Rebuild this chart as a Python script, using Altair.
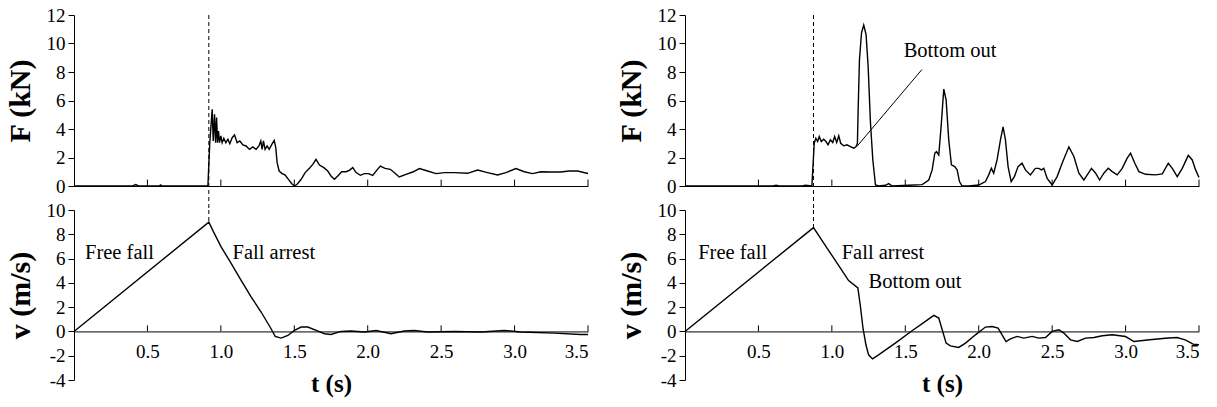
import altair as alt
import pandas as pd

# ---------------- data ----------------
# Left case: normal fall arrest
tF_left = [0, 0.40, 0.42, 0.44, 0.58, 0.59, 0.60, 0.912, 0.918, 0.925, 0.941, 0.948, 0.957, 0.964,
           0.971, 0.977, 0.984, 0.991, 1.0, 1.009, 1.020, 1.034, 1.048, 1.061, 1.077, 1.093, 1.111,
           1.129, 1.150, 1.172, 1.195, 1.218, 1.240, 1.259, 1.272, 1.281, 1.290, 1.301, 1.315, 1.329,
           1.347, 1.363, 1.374, 1.383, 1.397, 1.415, 1.438, 1.460, 1.483, 1.501, 1.519, 1.547, 1.574,
           1.603, 1.626, 1.648, 1.671, 1.701, 1.728, 1.750, 1.773, 1.796, 1.823, 1.853, 1.875, 1.898,
           1.921, 1.950, 1.977, 2.005, 2.034, 2.061, 2.086, 2.118, 2.154, 2.186, 2.215, 2.261, 2.306,
           2.352, 2.408, 2.465, 2.522, 2.590, 2.680, 2.748, 2.816, 2.884, 2.941, 3.009, 3.066, 3.122,
           3.179, 3.247, 3.315, 3.372, 3.429, 3.5]
F_left = [0, 0, 0.1, 0, 0, 0.08, 0, 0, 1.5, 3.1, 5.38, 3.16, 5.03, 3.04,
          4.8, 3.04, 3.86, 3.04, 3.51, 3.04, 3.35, 3.04, 3.28, 2.97, 3.39, 3.58, 3.04,
          3.16, 2.88, 2.81, 2.57, 2.74, 2.57, 2.81, 3.16, 2.57, 3.16, 2.57, 2.81, 2.57,
          2.92, 3.2, 2.69, 1.64, 1.05, 0.89, 0.77, 0.47, 0.16, 0, 0.12, 0.47, 0.94,
          1.24, 1.52, 1.87, 1.47, 1.29, 1.05, 0.70, 0.47, 0.70, 1.0, 1.0, 1.1, 1.29,
          0.94, 0.75, 0.87, 0.87, 0.75, 1.1, 1.40, 1.24, 1.17, 0.9, 0.63, 0.82, 0.98,
          1.22, 1.05, 0.87, 0.94, 0.94, 0.89, 1.12, 0.94, 0.77, 0.94, 1.22, 1.0, 0.87,
          1.0, 0.98, 0.98, 1.05, 1.05, 0.88]
tv_left = [0, 0.918, 0.95, 1.002, 1.070, 1.138, 1.206, 1.274, 1.342, 1.370, 1.410, 1.456, 1.501,
           1.547, 1.592, 1.649, 1.705, 1.750, 1.818, 1.886, 1.977, 2.057, 2.159, 2.249, 2.317, 2.408,
           2.59, 2.771, 2.930, 3.043, 3.27, 3.451, 3.5]
v_left = [0, 9.0, 8.2, 6.97, 5.6, 4.21, 2.84, 1.6, 0.22, -0.41, -0.55, -0.33, 0.08,
          0.36, 0.36, 0.08, -0.19, -0.25, 0.0, 0.03, -0.05, 0.08, -0.19, 0.03, 0.08, -0.05,
          0.0, -0.05, 0.08, -0.05, -0.14, -0.25, -0.25]

# Right case: bottom out
tF_right = [0, 0.60, 0.62, 0.64, 0.80, 0.82, 0.864, 0.872, 0.880, 0.891, 0.903, 0.914, 0.928, 0.944,
            0.960, 0.974, 0.990, 1.006, 1.019, 1.033, 1.047, 1.060, 1.081, 1.103, 1.126, 1.149, 1.165,
            1.174, 1.179, 1.188, 1.202, 1.217, 1.233, 1.247, 1.263, 1.279, 1.297, 1.320, 1.365, 1.387,
            1.410, 1.524, 1.615, 1.660, 1.683, 1.701, 1.712, 1.728, 1.744, 1.762, 1.778, 1.796, 1.814,
            1.837, 1.853, 1.869, 1.887, 1.932, 2.0, 2.046, 2.068, 2.086, 2.102, 2.125, 2.148, 2.166,
            2.182, 2.200, 2.221, 2.243, 2.268, 2.295, 2.318, 2.352, 2.386, 2.409, 2.427, 2.443, 2.466,
            2.500, 2.534, 2.568, 2.614, 2.648, 2.682, 2.716, 2.739, 2.768, 2.796, 2.823, 2.852, 2.882,
            2.909, 2.943, 2.977, 3.011, 3.034, 3.063, 3.091, 3.136, 3.204, 3.250, 3.291, 3.318, 3.352,
            3.386, 3.427, 3.454, 3.477, 3.5]
F_right = [0, 0, 0.05, 0, 0, 0.05, 0, 1.5, 3.0, 3.35, 3.12, 3.47, 3.12, 3.28,
           3.12, 2.89, 3.24, 3.05, 3.47, 3.05, 3.52, 3.0, 2.82, 2.89, 2.77, 2.65, 2.77,
           3.0, 5.35, 8.87, 10.75, 11.3, 10.63, 8.4, 4.41, 1.82, 0.07, 0, 0.05, 0.17,
           0, 0.05, 0.1, 0.42, 1.13, 2.3, 2.42, 2.18, 4.18, 6.8, 6.05, 3.24, 1.48,
           1.36, 1.13, 0.31, 0, 0, 0.07, 0.31, 0.78, 1.24, 0.9, 1.83, 3.24, 4.15,
           3.24, 1.36, 0.31, 0.66, 1.36, 1.6, 1.13, 0.78, 1.24, 1.24, 1.13, 1.24, 0.54,
           0.07, 0.66, 1.6, 2.75, 2.07, 0.9, 0.42, 0.78, 1.24, 0.9, 0.42, 0.9, 1.24,
           1.01, 0.78, 1.24, 1.95, 2.3, 1.6, 1.01, 0.82, 0.78, 0.85, 1.6, 1.24, 0.66,
           1.24, 2.15, 1.83, 1.13, 0.6]
tv_right = [0, 0.875, 0.966, 1.057, 1.114, 1.177, 1.193, 1.212, 1.232, 1.250, 1.277, 1.318, 1.432,
            1.546, 1.637, 1.694, 1.728, 1.755, 1.778, 1.807, 1.864, 1.910, 1.978, 2.046, 2.091,
            2.132, 2.159, 2.186, 2.216, 2.261, 2.307, 2.364, 2.409, 2.455, 2.500, 2.546, 2.580,
            2.625, 2.671, 2.728, 2.785, 2.841, 2.909, 3.0, 3.057, 3.164, 3.27, 3.35, 3.406, 3.46, 3.5]
v_right = [0, 8.55, 6.89, 5.23, 4.19, 3.58, 2.2, 0.28, -1.10, -1.93, -2.26, -1.93, -0.96,
           0.06, 0.83, 1.32, 1.1, 0.0, -0.96, -1.19, -1.32, -0.96, -0.28, 0.36, 0.41,
           0.28, -0.28, -0.83, -0.61, -0.41, -0.55, -0.41, -0.55, -0.5, 0.0, 0.14, -0.14,
           -0.69, -0.83, -0.55, -0.5, -0.36, -0.28, -0.42, -0.83, -0.69, -0.56, -0.5, -0.69, -1.05, -1.1]

t_arrest = [0.918, 0.875]          # onset of arrest (dashed line)
v_peak = [9.0, 8.55]               # velocity at arrest onset
t_ticks = [0.5, 1.0, 1.5, 2.0, 2.5, 3.0, 3.5]
F_ticks = [0, 2, 4, 6, 8, 10, 12]
v_ticks = [-4, -2, 0, 2, 4, 6, 8, 10]

v_notes_left = ["Free fall", "Fall arrest"]
v_notes_left_t = [0.075, 1.08]
v_notes_left_v = [6.45, 6.45]
v_notes_right = ["Free fall", "Fall arrest", "Bottom out"]
v_notes_right_t = [0.09, 1.067, 1.25]
v_notes_right_v = [6.5, 6.5, 4.1]
F_note_right = ["Bottom out"]
F_note_right_t = [1.489]
F_note_right_F = [9.45]
leader_t = [1.613, 1.170]          # leader line start / end
leader_F = [8.17, 2.77]

# ---------------- layout ----------------
W = 514
H_TOP = 171
H_BOT = 170
GAP = 24
SERIF = "Liberation Serif"
NOTE_SIZE = 20.5

xs = alt.Scale(domain=[0, 3.5], nice=False, zero=False)
ys_F = alt.Scale(domain=[0, 12], nice=False)
ys_v = alt.Scale(domain=[-4, 10], nice=False)

AX_COMMON = dict(
    grid=False, domainColor="black", domainWidth=1, tickColor="black",
    labelFont=SERIF, labelFontSize=19, labelColor="black", labelOverlap=False,
    titleFont=SERIF, titleFontWeight="bold", titleColor="black",
)
ax_top_x = alt.Axis(title=None, labels=False, ticks=False, domain=True, **AX_COMMON)
ax_top_y = alt.Axis(title="F (kN)", values=F_ticks, tickCount=7, ticks=True, tickSize=6,
                    labelPadding=3, titlePadding=11, titleFontSize=30, **AX_COMMON)
ax_bot_x = alt.Axis(title="t (s)", values=t_ticks, format=".1f", ticks=False, titleFontSize=25,
                    offset=-H_BOT * 4 / 14, labelPadding=11, titlePadding=10, **AX_COMMON)
ax_bot_y = alt.Axis(title="v (m/s)", values=v_ticks, tickCount=8, ticks=True, tickSize=6,
                    labelPadding=3, labelExpr="'' + datum.value", titlePadding=11,
                    titleFontSize=30, **AX_COMMON)


def top_panel(tF, F, t_arr, note=None):
    X = lambda f: alt.X(f, scale=xs, axis=ax_top_x)
    Y = lambda f: alt.Y(f, scale=ys_F, axis=ax_top_y)
    df = pd.DataFrame({"t": tF, "F": F})
    line = alt.Chart(df).mark_line(color="black", strokeWidth=1.4).encode(x=X("t:Q"), y=Y("F:Q"))
    tick_df = pd.DataFrame({"t": t_ticks, "F": [0] * len(t_ticks), "F2": [0.45] * len(t_ticks)})
    ticks = alt.Chart(tick_df).mark_rule(color="black", strokeWidth=1).encode(
        x=X("t:Q"), y=Y("F:Q"), y2="F2:Q")
    dash = alt.Chart(pd.DataFrame({"t": [t_arr], "F": [12]})).mark_rule(
        color="black", strokeWidth=1, strokeDash=[4, 3]
    ).encode(x=X("t:Q"), y=Y("F:Q"), y2=alt.value(H_TOP + GAP))
    layers = [line, ticks, dash]
    if note is not None:
        ndf = pd.DataFrame({"t": note[0], "F": note[1], "label": note[2]})
        layers.append(alt.Chart(ndf).mark_text(
            align="left", baseline="middle", font=SERIF, fontSize=NOTE_SIZE, color="black"
        ).encode(x=X("t:Q"), y=Y("F:Q"), text="label:N"))
        ldf = pd.DataFrame({"t": [note[3][0]], "F": [note[4][0]],
                            "t2": [note[3][1]], "F2": [note[4][1]]})
        layers.append(alt.Chart(ldf).mark_rule(color="black", strokeWidth=1).encode(
            x=X("t:Q"), y=Y("F:Q"), x2="t2:Q", y2="F2:Q"))
    return alt.layer(*layers).properties(width=W, height=H_TOP)


def bottom_panel(tv, v, t_arr, v_pk, notes_t, notes_v, notes):
    X = lambda f: alt.X(f, scale=xs, axis=ax_bot_x)
    Y = lambda f: alt.Y(f, scale=ys_v, axis=ax_bot_y)
    df = pd.DataFrame({"t": tv, "v": v})
    line = alt.Chart(df).mark_line(color="black", strokeWidth=1.4).encode(x=X("t:Q"), y=Y("v:Q"))
    tick_df = pd.DataFrame({"t": t_ticks, "v": [0] * len(t_ticks), "v2": [0.5] * len(t_ticks)})
    ticks = alt.Chart(tick_df).mark_rule(color="black", strokeWidth=1).encode(
        x=X("t:Q"), y=Y("v:Q"), y2="v2:Q")
    dash = alt.Chart(pd.DataFrame({"t": [t_arr], "v": [10], "v2": [v_pk]})).mark_rule(
        color="black", strokeWidth=1, strokeDash=[4, 3]
    ).encode(x=X("t:Q"), y=Y("v:Q"), y2="v2:Q")
    ndf = pd.DataFrame({"t": notes_t, "v": notes_v, "label": notes})
    text = alt.Chart(ndf).mark_text(
        align="left", baseline="middle", font=SERIF, fontSize=NOTE_SIZE, color="black"
    ).encode(x=X("t:Q"), y=Y("v:Q"), text="label:N")
    return alt.layer(line, ticks, dash, text).properties(width=W, height=H_BOT)


tl = top_panel(tF_left, F_left, t_arrest[0])
tr = top_panel(tF_right, F_right, t_arrest[1],
               note=(F_note_right_t, F_note_right_F, F_note_right, leader_t, leader_F))
bl = bottom_panel(tv_left, v_left, t_arrest[0], v_peak[0], v_notes_left_t, v_notes_left_v, v_notes_left)
br = bottom_panel(tv_right, v_right, t_arrest[1], v_peak[1], v_notes_right_t, v_notes_right_v, v_notes_right)

chart = alt.concat(tl, tr, bl, br, columns=2, spacing={"row": GAP, "column": 97}).properties(
    bounds="flush",
    padding={"left": 5, "top": 6, "right": 5, "bottom": 6},
    background="white",
).configure(font=SERIF).configure_view(stroke=None)

chart.save("out.html", embed_options={"renderer": "svg", "actions": False})
